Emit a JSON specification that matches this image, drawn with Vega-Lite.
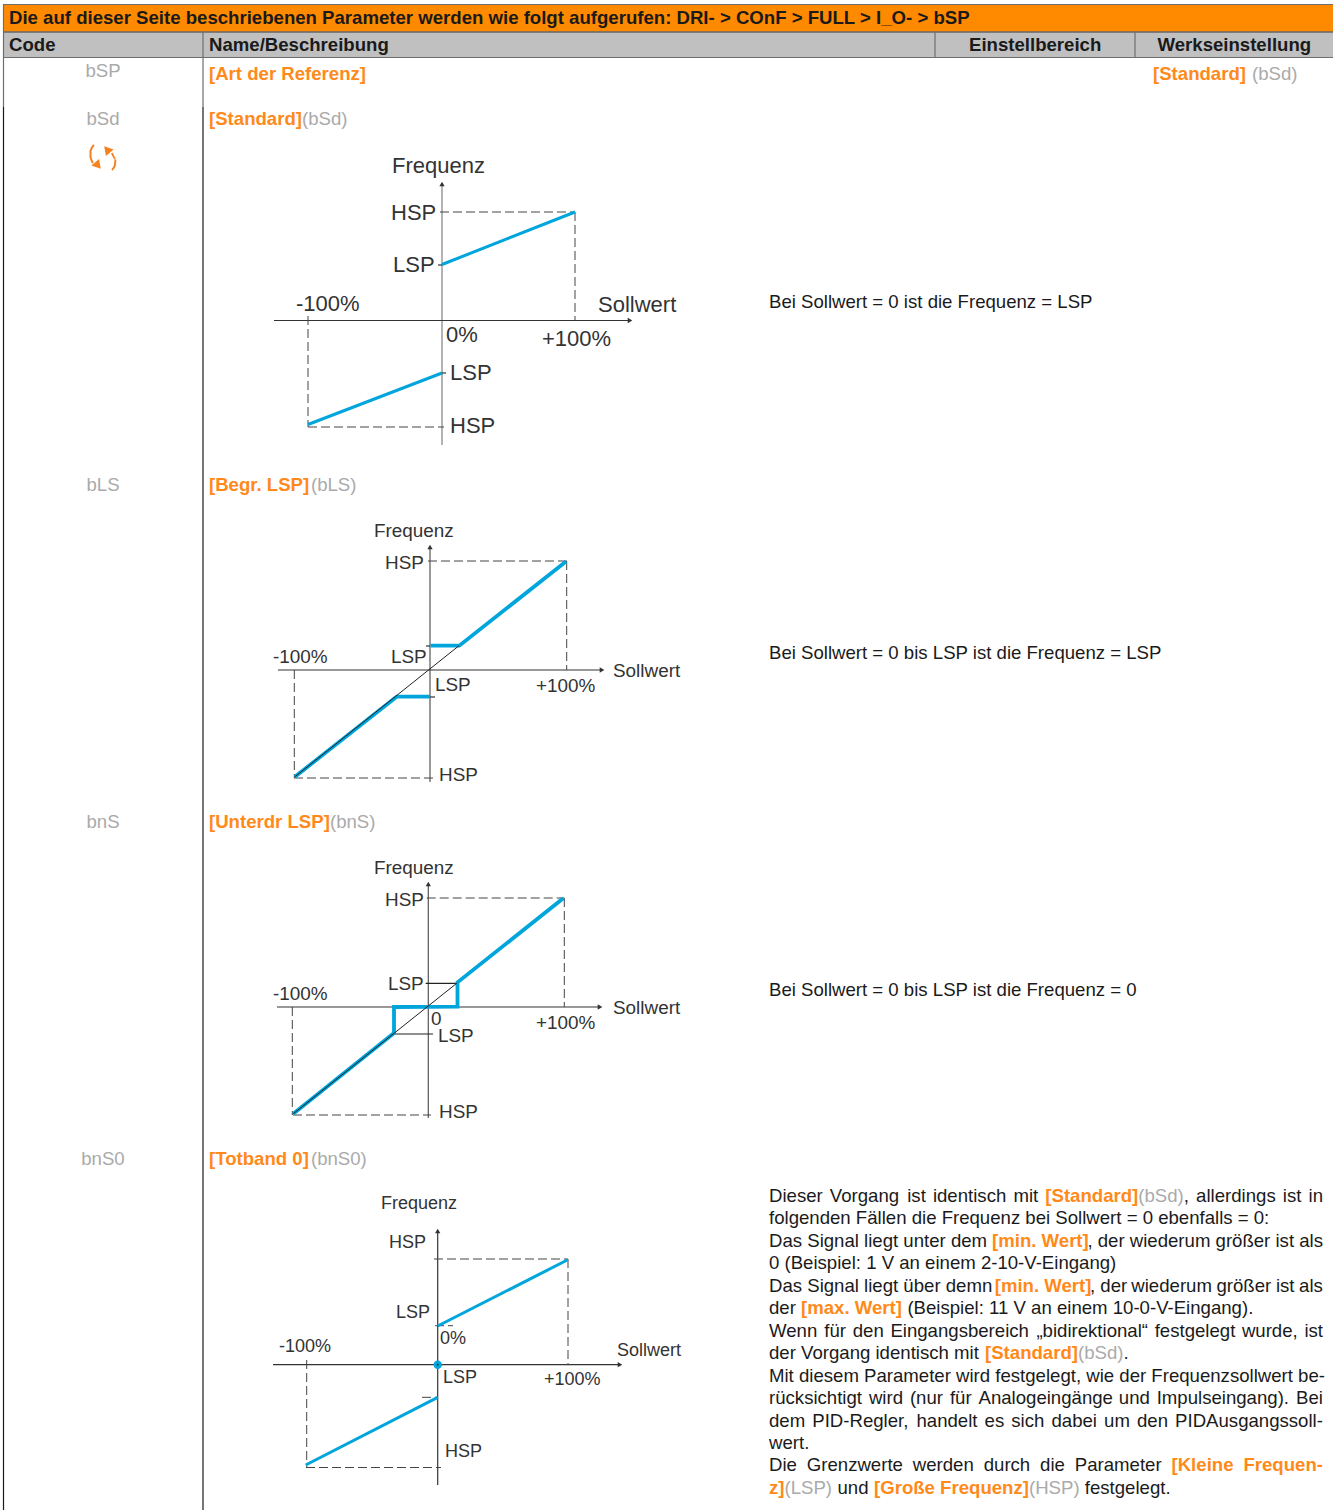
{"$schema":"https://vega.github.io/schema/vega-lite/v6.json","width":1333,"height":1510,"autosize":"none","padding":0,"background":"white","view":{"stroke":null},
"config":{"font":"Liberation Sans"},
"resolve":{"scale":{"color":"independent","fill":"independent","shape":"independent","strokeWidth":"independent"}},
"datasets":{
"bands":[
{"x":3,"x2":1333,"y":5,"y2":31.5,"part":"title"},
{"x":3,"x2":1333,"y":32.5,"y2":57,"part":"head"}
],
"rules":[
{"x":3,"x2":1333,"y":4.5,"y2":4.5,"k":"frame"},
{"x":3,"x2":1333,"y":32,"y2":32,"k":"ink"},
{"x":3,"x2":1333,"y":57.5,"y2":57.5,"k":"frame"},
{"x":3.5,"x2":3.5,"y":5,"y2":107,"k":"frame"},
{"x":3.5,"x2":3.5,"y":107,"y2":1510,"k":"ink"},
{"x":203,"x2":203,"y":32,"y2":107,"k":"frame"},
{"x":203,"x2":203,"y":107,"y2":1510,"k":"ink"},
{"x":935,"x2":935,"y":32,"y2":58,"k":"frame"},
{"x":1135,"x2":1135,"y":32,"y2":58,"k":"frame"},
{"x":442,"x2":442,"y":185,"y2":445,"k":"yaxis"},
{"x":274,"x2":628,"y":320.5,"y2":320.5,"k":"axis"},
{"x":438,"x2":442,"y":265,"y2":265,"k":"axis"},
{"x":442,"x2":446,"y":373,"y2":373,"k":"axis"},
{"x":430,"x2":430,"y":548,"y2":782,"k":"yaxis2"},
{"x":278,"x2":600,"y":670,"y2":670,"k":"axis"},
{"x":426,"x2":430,"y":646,"y2":646,"k":"axis"},
{"x":430,"x2":435,"y":697,"y2":697,"k":"axis"},
{"x":428.3,"x2":428.3,"y":885,"y2":1118,"k":"yaxis2"},
{"x":277,"x2":598,"y":1007,"y2":1007,"k":"axis"},
{"x":425.7,"x2":458,"y":983.3,"y2":983.3,"k":"thin"},
{"x":394,"x2":433,"y":1034,"y2":1034,"k":"thin"},
{"x":437.7,"x2":437.7,"y":1232,"y2":1485,"k":"axis"},
{"x":273,"x2":618,"y":1364.7,"y2":1364.7,"k":"axis"}
],
"diagonals":[
{"x":295,"x2":459,"y":776.7,"y2":645.7},
{"x":293.3,"x2":456.7,"y":1113.7,"y2":983.3}
],
"dashes":[
{"x":440,"x2":575,"y":212,"y2":212},
{"x":575,"x2":575,"y":212,"y2":320},
{"x":308,"x2":308,"y":316,"y2":427},
{"x":308,"x2":444,"y":427,"y2":427},
{"x":428,"x2":567,"y":561,"y2":561},
{"x":566.7,"x2":566.7,"y":561,"y2":670},
{"x":294.3,"x2":294.3,"y":670,"y2":778},
{"x":294,"x2":433,"y":778,"y2":778},
{"x":426.7,"x2":564.3,"y":898,"y2":898},
{"x":564.3,"x2":564.3,"y":898,"y2":1007},
{"x":292.3,"x2":292.3,"y":1007,"y2":1115},
{"x":293,"x2":431,"y":1115,"y2":1115},
{"x":434,"x2":568,"y":1259,"y2":1259},
{"x":568,"x2":568,"y":1259,"y2":1365},
{"x":306.7,"x2":306.7,"y":1360,"y2":1467.5},
{"x":306,"x2":441,"y":1467.5,"y2":1467.5},
{"x":435,"x2":453,"y":1325.7,"y2":1325.7},
{"x":422,"x2":437.7,"y":1397.3,"y2":1397.3}
],
"curvesThin":[
{"c":"a1","o":1,"x":442,"y":264.5},{"c":"a1","o":2,"x":575,"y":212},
{"c":"a2","o":1,"x":308,"y":424.5},{"c":"a2","o":2,"x":442,"y":373},
{"c":"d1","o":1,"x":437.7,"y":1326},{"c":"d1","o":2,"x":567.3,"y":1260},
{"c":"d2","o":1,"x":305.7,"y":1465},{"c":"d2","o":2,"x":437.7,"y":1397.3}
],
"curvesThick":[
{"c":"b1","o":1,"x":430.5,"y":645.7},{"c":"b1","o":2,"x":459.3,"y":645.7},{"c":"b1","o":3,"x":566,"y":561.5},
{"c":"b2","o":1,"x":295,"y":776.7},{"c":"b2","o":2,"x":396.7,"y":696.7},{"c":"b2","o":3,"x":430,"y":696.7},
{"c":"c1","o":1,"x":563.3,"y":898.3},{"c":"c1","o":2,"x":457.5,"y":982.3},{"c":"c1","o":3,"x":457.5,"y":1006.7},{"c":"c1","o":4,"x":394,"y":1007},{"c":"c1","o":5,"x":394,"y":1033},{"c":"c1","o":6,"x":293.3,"y":1113.7}
],
"icon":[
{"c":"i1","o":1,"x":94,"y":145},{"c":"i1","o":2,"x":90.5,"y":151},{"c":"i1","o":3,"x":90.5,"y":157},{"c":"i1","o":4,"x":93,"y":163},
{"c":"i2","o":1,"x":112,"y":170},{"c":"i2","o":2,"x":115,"y":165},{"c":"i2","o":3,"x":115.5,"y":159},{"c":"i2","o":4,"x":112,"y":153}
],
"heads":[
{"x":442,"y":184,"dir":"up"},
{"x":630,"y":320.5,"dir":"right"},
{"x":430,"y":547,"dir":"up"},
{"x":602,"y":670,"dir":"right"},
{"x":428.3,"y":884,"dir":"up"},
{"x":600,"y":1007,"dir":"right"},
{"x":437.7,"y":1231,"dir":"up"},
{"x":620,"y":1364.7,"dir":"right"}
],
"iconheads":[
{"x":107,"y":149.5,"a":-40},
{"x":98,"y":165.5,"a":140}
],
"dots":[{"x":437.7,"y":1364.7}],
"bold":[
{"x":9,"y":18,"t":"Die auf dieser Seite beschriebenen Parameter werden wie folgt aufgerufen: DRI- > COnF > FULL > I_O- > bSP","r":"head"},
{"x":9,"y":44.5,"t":"Code","r":"head"},
{"x":209,"y":44.5,"t":"Name/Beschreibung","r":"head"},
{"x":969,"y":44.5,"t":"Einstellbereich","r":"head"},
{"x":1157.5,"y":44.5,"t":"Werkseinstellung","r":"head"},
{"x":209,"y":73.5,"t":"[Art der Referenz]","r":"tag"},
{"x":1153,"y":73.5,"t":"[Standard]","r":"tag"},
{"x":209,"y":118.5,"t":"[Standard]","r":"tag"},
{"x":209,"y":484.5,"t":"[Begr. LSP]","r":"tag"},
{"x":209,"y":821.5,"t":"[Unterdr LSP]","r":"tag"},
{"x":209,"y":1158.5,"t":"[Totband 0]","r":"tag"},
{"x":1045.3,"y":1195.5,"t":"[Standard]","r":"tag"},
{"x":992,"y":1240.5,"t":"[min. Wert]","r":"tag"},
{"x":994.7,"y":1285.5,"t":"[min. Wert]","r":"tag"},
{"x":801,"y":1307.5,"t":"[max. Wert]","r":"tag"},
{"x":985,"y":1352.5,"t":"[Standard]","r":"tag"},
{"x":1171.5,"y":1464.5,"t":"[Kleine","r":"tag"},
{"x":1243.4,"y":1464.5,"t":"Frequen-","r":"tag"},
{"x":769,"y":1487.5,"t":"z]","r":"tag"},
{"x":874,"y":1487.5,"t":"[Große Frequenz]","r":"tag"}
],
"codes":[
{"x":103,"y":70.5,"t":"bSP"},
{"x":103,"y":118.5,"t":"bSd"},
{"x":103,"y":484.5,"t":"bLS"},
{"x":103,"y":821.5,"t":"bnS"},
{"x":103,"y":1158.5,"t":"bnS0"}
],
"plain":[
{"x":1252,"y":73.5,"t":"(bSd)","r":"code"},
{"x":302,"y":118.5,"t":"(bSd)","r":"code"},
{"x":311,"y":484.5,"t":"(bLS)","r":"code"},
{"x":330,"y":821.5,"t":"(bnS)","r":"code"},
{"x":311,"y":1158.5,"t":"(bnS0)","r":"code"},
{"x":392,"y":165.5,"t":"Frequenz","r":"d1"},
{"x":391,"y":212.5,"t":"HSP","r":"d1"},
{"x":393,"y":264.5,"t":"LSP","r":"d1"},
{"x":296,"y":303.5,"t":"-100%","r":"d1"},
{"x":598,"y":304.5,"t":"Sollwert","r":"d1"},
{"x":446,"y":334.5,"t":"0%","r":"d1"},
{"x":542,"y":338.5,"t":"+100%","r":"d1"},
{"x":450,"y":372.5,"t":"LSP","r":"d1"},
{"x":450,"y":425.5,"t":"HSP","r":"d1"},
{"x":374,"y":530.5,"t":"Frequenz","r":"d2"},
{"x":385,"y":562.5,"t":"HSP","r":"d2"},
{"x":391,"y":656.5,"t":"LSP","r":"d2"},
{"x":273,"y":656.5,"t":"-100%","r":"d2"},
{"x":613,"y":670.5,"t":"Sollwert","r":"d2"},
{"x":435,"y":684.5,"t":"LSP","r":"d2"},
{"x":536,"y":685.5,"t":"+100%","r":"d2"},
{"x":439,"y":774.5,"t":"HSP","r":"d2"},
{"x":374,"y":867.5,"t":"Frequenz","r":"d2"},
{"x":385,"y":899.5,"t":"HSP","r":"d2"},
{"x":388,"y":983.5,"t":"LSP","r":"d2"},
{"x":273,"y":993.5,"t":"-100%","r":"d2"},
{"x":613,"y":1007.5,"t":"Sollwert","r":"d2"},
{"x":431,"y":1018.5,"t":"0","r":"d2"},
{"x":438,"y":1035.5,"t":"LSP","r":"d2"},
{"x":536,"y":1022.5,"t":"+100%","r":"d2"},
{"x":439,"y":1111.5,"t":"HSP","r":"d2"},
{"x":381,"y":1203.5,"t":"Frequenz","r":"d4"},
{"x":389,"y":1242.5,"t":"HSP","r":"d4"},
{"x":396,"y":1312.5,"t":"LSP","r":"d4"},
{"x":440,"y":1338.5,"t":"0%","r":"d4"},
{"x":279,"y":1346.5,"t":"-100%","r":"d4"},
{"x":617,"y":1350.5,"t":"Sollwert","r":"d4"},
{"x":443,"y":1377.5,"t":"LSP","r":"d4"},
{"x":544,"y":1379.5,"t":"+100%","r":"d4"},
{"x":445,"y":1451.5,"t":"HSP","r":"d4"},
{"x":769,"y":301.5,"t":"Bei Sollwert = 0 ist die Frequenz = LSP","r":"body"},
{"x":769,"y":652.5,"t":"Bei Sollwert = 0 bis LSP ist die Frequenz = LSP","r":"body"},
{"x":769,"y":989.5,"t":"Bei Sollwert = 0 bis LSP ist die Frequenz = 0","r":"body"},
{"x":769,"y":1195.5,"t":"Dieser","r":"body"},
{"x":829.8,"y":1195.5,"t":"Vorgang","r":"body"},
{"x":907.2,"y":1195.5,"t":"ist","r":"body"},
{"x":932.9,"y":1195.5,"t":"identisch","r":"body"},
{"x":1013.4,"y":1195.5,"t":"mit","r":"body"},
{"x":1138.3,"y":1195.5,"t":"(bSd)","r":"code"},
{"x":1183.8,"y":1195.5,"t":",","r":"body"},
{"x":1196.1,"y":1195.5,"t":"allerdings","r":"body"},
{"x":1282.8,"y":1195.5,"t":"ist","r":"body"},
{"x":1308.5,"y":1195.5,"t":"in","r":"body"},
{"x":769,"y":1217.5,"t":"folgenden Fällen die Frequenz bei Sollwert = 0 ebenfalls = 0:","r":"body"},
{"x":769,"y":1240.5,"t":"Das Signal liegt unter dem","r":"body"},
{"x":1087.4,"y":1240.5,"t":", der wiederum größer ist als","r":"body"},
{"x":769,"y":1262.5,"t":"0 (Beispiel: 1 V an einem 2-10-V-Eingang)","r":"body"},
{"x":769,"y":1285.5,"t":"Das Signal liegt über demn","r":"body"},
{"x":1090,"y":1285.5,"t":", der","r":"body"},
{"x":1131.3,"y":1285.5,"t":"wiederum","r":"body"},
{"x":1216.5,"y":1285.5,"t":"größer","r":"body"},
{"x":1275.9,"y":1285.5,"t":"ist","r":"body"},
{"x":1299.1,"y":1285.5,"t":"als","r":"body"},
{"x":769,"y":1307.5,"t":"der","r":"body"},
{"x":907.4,"y":1307.5,"t":"(Beispiel: 11 V an einem 10-0-V-Eingang).","r":"body"},
{"x":769,"y":1330.5,"t":"Wenn","r":"body"},
{"x":824.3,"y":1330.5,"t":"für","r":"body"},
{"x":852.7,"y":1330.5,"t":"den","r":"body"},
{"x":890.4,"y":1330.5,"t":"Eingangsbereich","r":"body"},
{"x":1036.4,"y":1330.5,"t":"„bidirektional“","r":"body"},
{"x":1154.7,"y":1330.5,"t":"festgelegt","r":"body"},
{"x":1241.9,"y":1330.5,"t":"wurde,","r":"body"},
{"x":1304.4,"y":1330.5,"t":"ist","r":"body"},
{"x":769,"y":1352.5,"t":"der Vorgang identisch mit","r":"body"},
{"x":1078,"y":1352.5,"t":"(bSd)","r":"code"},
{"x":1123.6,"y":1352.5,"t":".","r":"body"},
{"x":769,"y":1375.5,"t":"Mit diesem Parameter wird festgelegt, wie der Frequenzsollwert be-","r":"body"},
{"x":769,"y":1397.5,"t":"rücksichtigt","r":"body"},
{"x":868.9,"y":1397.5,"t":"wird","r":"body"},
{"x":909.9,"y":1397.5,"t":"(nur","r":"body"},
{"x":949.9,"y":1397.5,"t":"für","r":"body"},
{"x":978.5,"y":1397.5,"t":"Analogeingänge","r":"body"},
{"x":1118.8,"y":1397.5,"t":"und","r":"body"},
{"x":1156.7,"y":1397.5,"t":"Impulseingang).","r":"body"},
{"x":1296,"y":1397.5,"t":"Bei","r":"body"},
{"x":769,"y":1420.5,"t":"dem","r":"body"},
{"x":812.3,"y":1420.5,"t":"PID-Regler,","r":"body"},
{"x":916.5,"y":1420.5,"t":"handelt","r":"body"},
{"x":984.6,"y":1420.5,"t":"es","r":"body"},
{"x":1011.3,"y":1420.5,"t":"sich","r":"body"},
{"x":1051.5,"y":1420.5,"t":"dabei","r":"body"},
{"x":1104.1,"y":1420.5,"t":"um","r":"body"},
{"x":1137,"y":1420.5,"t":"den","r":"body"},
{"x":1175.1,"y":1420.5,"t":"PIDAusgangssoll-","r":"body"},
{"x":769,"y":1442.5,"t":"wert.","r":"body"},
{"x":769,"y":1464.5,"t":"Die","r":"body"},
{"x":806.8,"y":1464.5,"t":"Grenzwerte","r":"body"},
{"x":912.8,"y":1464.5,"t":"werden","r":"body"},
{"x":983.7,"y":1464.5,"t":"durch","r":"body"},
{"x":1040.1,"y":1464.5,"t":"die","r":"body"},
{"x":1074.8,"y":1464.5,"t":"Parameter","r":"body"},
{"x":784.5,"y":1487.5,"t":"(LSP)","r":"code"},
{"x":837.5,"y":1487.5,"t":"und","r":"body"},
{"x":1029,"y":1487.5,"t":"(HSP)","r":"code"},
{"x":1084.8,"y":1487.5,"t":"festgelegt.","r":"body"}
]},
"encoding":{
"x":{"field":"x","type":"quantitative","scale":{"domain":[0,1333],"nice":false,"zero":false},"axis":null},
"y":{"field":"y","type":"quantitative","scale":{"domain":[1510,0],"nice":false,"zero":false},"axis":null}
},
"layer":[
{"data":{"name":"bands"},"mark":{"type":"rect"},"encoding":{"x2":{"field":"x2"},"y2":{"field":"y2"},"fill":{"field":"part","type":"nominal","scale":{"domain":["title","head"],"range":["#ff8a00","#c0c0c0"]},"legend":null}}},
{"data":{"name":"rules"},"mark":{"type":"rule"},"encoding":{"x2":{"field":"x2"},"y2":{"field":"y2"},"color":{"field":"k","type":"nominal","scale":{"domain":["frame","ink","axis","yaxis","yaxis2","thin"],"range":["#6e6e6e","#1a1a1a","#333333","#808080","#555555","#222222"]},"legend":null},"strokeWidth":{"field":"k","type":"nominal","scale":{"domain":["frame","ink","axis","yaxis","yaxis2","thin"],"range":[1.2,1.2,1,1.5,1.2,0.8]},"legend":null}}},
{"data":{"name":"dashes"},"mark":{"type":"rule","strokeDash":[9,4],"color":"#444444","strokeWidth":1},"encoding":{"x2":{"field":"x2"},"y2":{"field":"y2"}}},
{"data":{"name":"curvesThin"},"mark":{"type":"line","color":"#00a5dc","strokeWidth":3,"strokeJoin":"miter","strokeCap":"butt"},"encoding":{"detail":{"field":"c"},"order":{"field":"o"}}},
{"data":{"name":"curvesThick"},"mark":{"type":"line","color":"#00a5dc","strokeWidth":3.8,"strokeJoin":"miter","strokeCap":"butt"},"encoding":{"detail":{"field":"c"},"order":{"field":"o"}}},
{"data":{"name":"diagonals"},"mark":{"type":"rule","color":"#222222","strokeWidth":1},"encoding":{"x2":{"field":"x2"},"y2":{"field":"y2"}}},
{"data":{"name":"icon"},"mark":{"type":"line","color":"#f58220","strokeWidth":2,"interpolate":"monotone"},"encoding":{"detail":{"field":"c"},"order":{"field":"o"}}},
{"data":{"name":"heads"},"mark":{"type":"point","filled":true,"opacity":1,"size":28,"color":"#333333"},"encoding":{"shape":{"field":"dir","type":"nominal","scale":{"domain":["up","right"],"range":["triangle-up","triangle-right"]},"legend":null}}},
{"data":{"name":"iconheads"},"mark":{"type":"point","shape":"triangle-up","filled":true,"opacity":1,"size":100,"color":"#f58220"},"encoding":{"angle":{"field":"a","type":"quantitative","scale":null}}},
{"data":{"name":"dots"},"mark":{"type":"circle","size":70,"color":"#00a5dc","opacity":1}},
{"data":{"name":"dots"},"mark":{"type":"circle","size":3,"color":"#222222","opacity":1}},
{"data":{"name":"codes"},"mark":{"type":"text","align":"center","baseline":"middle","fontSize":18.6,"color":"#aaaaaa"},"encoding":{"text":{"field":"t"}}},
{"data":{"name":"plain"},"transform":[{"filter":"datum.r==='code'"}],"mark":{"type":"text","align":"left","baseline":"middle","fontSize":18.6,"color":"#aaaaaa"},"encoding":{"text":{"field":"t"}}},
{"data":{"name":"plain"},"transform":[{"filter":"datum.r==='body'"}],"mark":{"type":"text","align":"left","baseline":"middle","fontSize":18.6,"color":"#1a1a1a"},"encoding":{"text":{"field":"t"}}},
{"data":{"name":"plain"},"transform":[{"filter":"datum.r==='d1'"}],"mark":{"type":"text","align":"left","baseline":"middle","dy":0.5,"fontSize":22,"color":"#333333"},"encoding":{"text":{"field":"t"}}},
{"data":{"name":"plain"},"transform":[{"filter":"datum.r==='d2'"}],"mark":{"type":"text","align":"left","baseline":"middle","dy":0.5,"fontSize":18.9,"color":"#333333"},"encoding":{"text":{"field":"t"}}},
{"data":{"name":"plain"},"transform":[{"filter":"datum.r==='d4'"}],"mark":{"type":"text","align":"left","baseline":"middle","dy":0.5,"fontSize":18,"color":"#333333"},"encoding":{"text":{"field":"t"}}},
{"data":{"name":"bold"},"mark":{"type":"text","align":"left","baseline":"middle","fontWeight":"bold","fontSize":18.6},"encoding":{"text":{"field":"t"},"color":{"field":"r","type":"nominal","scale":{"domain":["head","tag"],"range":["#1a1a1a","#ff8a1a"]},"legend":null}}}
]}
